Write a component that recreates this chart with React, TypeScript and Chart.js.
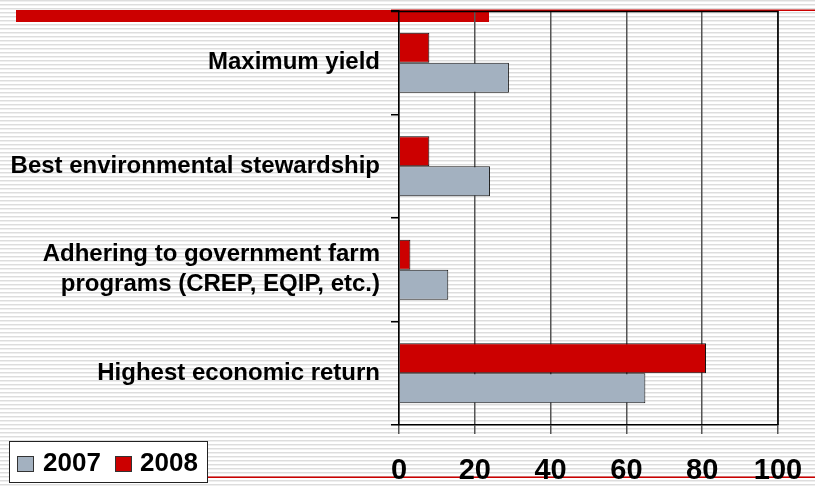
import React, { useEffect, useRef } from "react";
import { Chart, registerables } from "chart.js";

Chart.register(...registerables);

const categories: (string | string[])[] = [
  "Maximum yield",
  "Best environmental stewardship",
  ["Adhering to government farm", "programs (CREP, EQIP, etc.)"],
  "Highest economic return",
];
const values2007 = [29, 24, 13, 65];
const values2008 = [8, 8, 3, 81];
const seriesLabels = ["2007", "2008"];
const seriesColors = ["#a3b1c0", "#cc0000"];
const xTicks = [0, 20, 40, 60, 80, 100];

const FONT = "'Liberation Sans', Arial, sans-serif";

const backgroundPlugin = {
  id: "bgDecor",
  beforeDraw(chart: any) {
    const ctx = chart.ctx;
    const w = chart.width;
    const h = chart.height;
    ctx.save();
    ctx.fillStyle = "#ffffff";
    ctx.fillRect(0, 0, w, h);
    for (let y = 0; y < h; y += 4) {
      ctx.fillStyle = "#dddddd";
      ctx.fillRect(0, y, w, 1);
      ctx.fillStyle = "#efefef";
      ctx.fillRect(0, y + 1, w, 1);
    }
    // decorative slide lines
    ctx.fillStyle = "#cc0000";
    ctx.fillRect(16, 10, 473, 12);
    ctx.fillRect(391, 9.5, w - 391, 1.5);
    ctx.fillRect(207, 476.5, w - 207, 1.5);
    ctx.restore();
  },
  afterDraw(chart: any) {
    const ctx = chart.ctx;
    const a = chart.chartArea;
    ctx.save();
    ctx.strokeStyle = "#000000";
    ctx.lineWidth = 1.5;
    ctx.beginPath();
    ctx.moveTo(391, a.top + 0.5);
    ctx.lineTo(a.right, a.top + 0.5);
    ctx.lineTo(a.right, a.bottom);
    ctx.stroke();

    // legend box
    const bx = 9, by = 441, bw = 198, bh = 41;
    ctx.fillStyle = "#ffffff";
    ctx.fillRect(bx, by, bw, bh);
    ctx.strokeStyle = "#222222";
    ctx.lineWidth = 1;
    ctx.strokeRect(bx + 0.5, by + 0.5, bw, bh);
    const items = [
      { x: 17, tx: 43 },
      { x: 115, tx: 140 },
    ];
    ctx.font = `bold 26px ${FONT}`;
    ctx.textBaseline = "middle";
    ctx.textAlign = "left";
    seriesLabels.forEach((lab, i) => {
      const it = items[i];
      ctx.fillStyle = seriesColors[i];
      ctx.fillRect(it.x, 456, 17, 16);
      ctx.strokeStyle = "#333333";
      ctx.strokeRect(it.x + 0.5, 456.5, 16, 15);
      ctx.fillStyle = "#000000";
      ctx.fillText(lab, it.tx, 464);
    });
    ctx.restore();
  },
};

export default function App() {
  const ref = useRef<HTMLCanvasElement>(null);
  useEffect(() => {
    document.body.style.margin = "0";
    const chart = new Chart(ref.current as HTMLCanvasElement, {
      type: "bar",
      data: {
        labels: categories,
        datasets: [
          {
            label: seriesLabels[1],
            data: values2008,
            backgroundColor: seriesColors[1],
            borderColor: "#111111",
            borderWidth: 1,
          },
          {
            label: seriesLabels[0],
            data: values2007,
            backgroundColor: seriesColors[0],
            borderColor: "#111111",
            borderWidth: 1,
          },
        ],
      },
      options: {
        indexAxis: "y",
        responsive: false,
        animation: false,
        events: [],
        layout: { padding: { left: 0, right: 37, top: 11, bottom: 0 } },
        datasets: { bar: { categoryPercentage: 0.58, barPercentage: 1.0 } },
        plugins: { legend: { display: false }, tooltip: { enabled: false } },
        scales: {
          x: {
            min: 0,
            max: 100,
            afterBuildTicks: (scale: any) => {
              scale.ticks = xTicks.map((v) => ({ value: v }));
            },
            afterFit: (scale: any) => {
              scale.height = 61;
              scale.paddingLeft = 0;
              scale.paddingRight = 0;
            },
            ticks: {
              color: "#000000",
              font: { family: FONT, size: 29, weight: "bold" },
              padding: 20,
              maxRotation: 0,
            },
            grid: {
              color: "#555555",
              lineWidth: 1.5,
              tickLength: 9,
              drawOnChartArea: true,
            },
            border: { color: "#000000", width: 1.5 },
          },
          y: {
            afterFit: (scale: any) => {
              scale.width = 399;
              scale.paddingTop = 0;
              scale.paddingBottom = 0;
            },
            ticks: {
              color: "#000000",
              font: { family: FONT, size: 24, weight: "bold", lineHeight: 1.25 },
              padding: 11,
            },
            grid: {
              offset: true,
              drawOnChartArea: false,
              color: "#000000",
              lineWidth: 1.5,
              tickLength: 8,
            },
            border: { color: "#000000", width: 1.5 },
          },
        },
      },
      plugins: [backgroundPlugin],
    } as any);
    return () => chart.destroy();
  }, []);
  return <canvas ref={ref} width={815} height={486} style={{ display: "block" }} />;
}
